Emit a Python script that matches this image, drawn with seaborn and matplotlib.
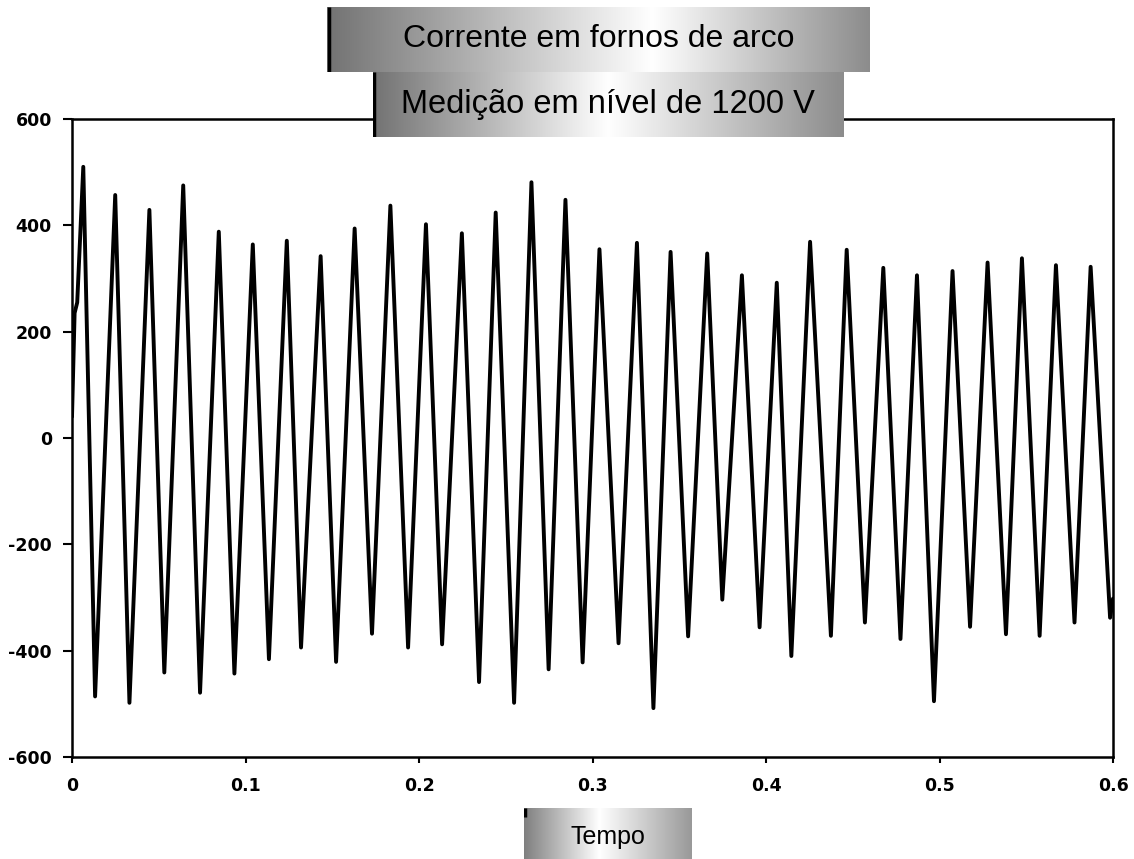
import numpy as np
import pandas as pd
import matplotlib
matplotlib.use("Agg")
import matplotlib.pyplot as plt
from matplotlib.colors import LinearSegmentedColormap
import seaborn as sns

# ---- data ----
start_t = [0.0, 0.0015, 0.003]
start_v = [40, 235, 255]

peak_t = [0.0065, 0.0249, 0.0446, 0.0641, 0.0846, 0.1042, 0.1238, 0.1433, 0.1629, 0.1835,
          0.2040, 0.2247, 0.2442, 0.2648, 0.2844, 0.3040, 0.3256, 0.3450, 0.3661, 0.3861,
          0.4062, 0.4254, 0.4465, 0.4676, 0.4870, 0.5075, 0.5277, 0.5475, 0.5671, 0.5871]
peak_v = [510, 457, 429, 475, 388, 364, 371, 342, 394, 437,
          402, 385, 424, 481, 448, 355, 367, 350, 347, 306,
          292, 369, 354, 320, 306, 314, 330, 338, 325, 322]

trough_t = [0.0133, 0.0331, 0.0532, 0.0738, 0.0936, 0.1135, 0.1320, 0.1522, 0.1729, 0.1937,
            0.2133, 0.2346, 0.2548, 0.2747, 0.2943, 0.3150, 0.3351, 0.3551, 0.3748, 0.3963,
            0.4146, 0.4374, 0.4570, 0.4775, 0.4968, 0.5176, 0.5383, 0.5577, 0.5778, 0.5983]
trough_v = [-486, -498, -441, -479, -443, -416, -394, -421, -368, -394,
            -388, -459, -498, -435, -422, -386, -508, -373, -304, -356,
            -410, -372, -347, -378, -495, -355, -369, -372, -347, -338]

end_t = [0.6]
end_v = [-302]

x_ticks = [0, 0.1, 0.2, 0.3, 0.4, 0.5, 0.6]
x_tick_labels = ["0", "0.1", "0.2", "0.3", "0.4", "0.5", "0.6"]
y_ticks = [600, 400, 200, 0, -200, -400, -600]
y_tick_labels = ["600", "400", "200", "0", "-200", "-400", "-600"]

title1 = "Corrente em fornos de arco"
title2 = "Medição em nível de 1200 V"
xlabel = "Tempo"

# ---- table ----
df = pd.DataFrame({
    "t": start_t + peak_t + trough_t + end_t,
    "i": start_v + peak_v + trough_v + end_v,
}).sort_values("t")

sns.set_theme(style="white")
plt.rcParams["font.family"] = ["DejaVu Sans"]
plt.rcParams["axes.unicode_minus"] = False

fig = plt.figure(figsize=(11.34, 8.59), dpi=100)
ax = fig.add_axes([0.0635, 0.1187, 0.9180, 0.7428])

sns.lineplot(data=df, x="t", y="i", ax=ax, color="black", linewidth=2.8,
             estimator=None, sort=True)

ax.set_xlim(0, 0.6)
ax.set_ylim(-600, 600)
ax.set_xticks(x_ticks)
ax.set_xticklabels(x_tick_labels)
ax.set_yticks(y_ticks)
ax.set_yticklabels(y_tick_labels)
ax.set_xlabel("")
ax.set_ylabel("")
for s in ax.spines.values():
    s.set_visible(True)
    s.set_color("black")
    s.set_linewidth(1.8)
ax.tick_params(axis="both", which="both", direction="out", width=1.5,
               colors="black", labelsize=12.5, bottom=True, left=True)
ax.tick_params(axis="y", length=6.5, pad=8)
ax.tick_params(axis="x", length=4.5, pad=10)
for lab in ax.get_xticklabels() + ax.get_yticklabels():
    lab.set_fontweight("bold")

# ---- gradient label boxes ----
def grad_cmap(peak_pos, left=0.45, right=0.55):
    return LinearSegmentedColormap.from_list(
        "g", [(0.0, (left, left, left)), (peak_pos, (1, 1, 1)), (1.0, (right, right, right))])

grad = np.linspace(0, 1, 256).reshape(1, -1)

def box(rect, text, size, peak_pos, ty=0.5, edge=True, mark=False, left=0.45, right=0.55):
    bax = fig.add_axes(rect, zorder=5)
    bax.imshow(grad, aspect="auto", cmap=grad_cmap(peak_pos, left, right), extent=[0, 1, 0, 1])
    bax.set_xlim(0, 1)
    bax.set_ylim(0, 1)
    bax.axis("off")
    if edge:
        bax.plot([0.003, 0.003], [0, 1], color="black", linewidth=2.5, solid_capstyle="butt")
    if mark:
        bax.plot([0.006, 0.006], [0.82, 1], color="black", linewidth=2.5, solid_capstyle="butt")
    bax.text(0.5, ty, text, ha="center", va="center", fontsize=size,
             family=["Liberation Sans", "DejaVu Sans"], color="black")
    return bax

box([0.2884, 0.9162, 0.4788, 0.0757], title1, 23, 0.6)
box([0.3289, 0.8405, 0.4145, 0.0757], title2, 23.5, 0.5)
box([0.4621, 0.0, 0.1481, 0.0594], xlabel, 18, 0.45, ty=0.44, edge=False, mark=True,
    left=0.5, right=0.6)

fig.savefig("out.png", dpi=100)
